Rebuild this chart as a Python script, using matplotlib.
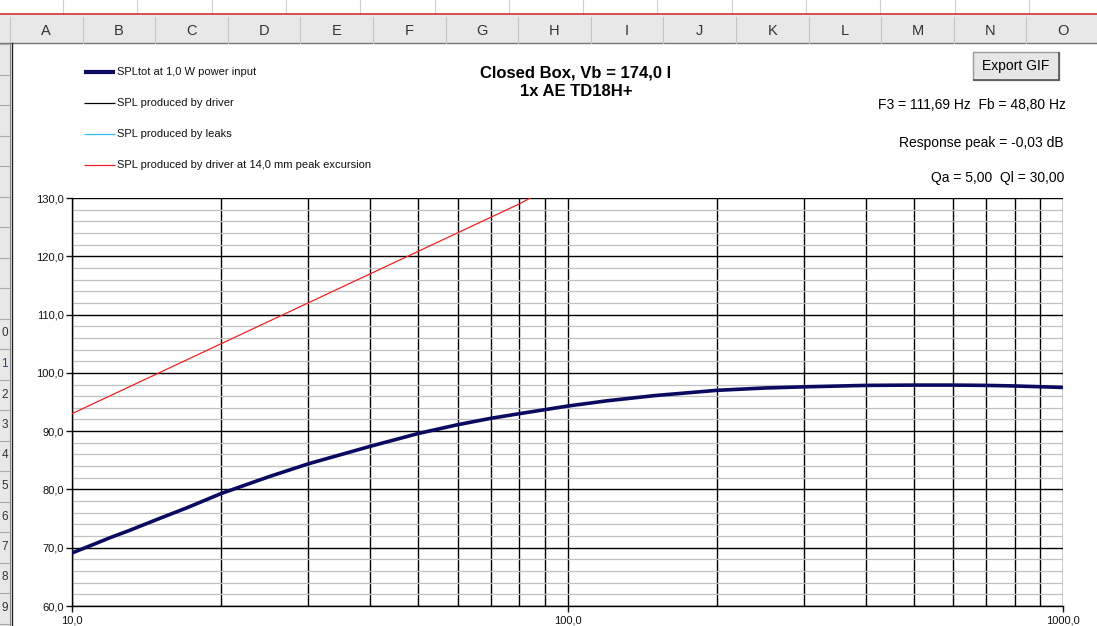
import numpy as np
import matplotlib
matplotlib.use('Agg')
import matplotlib.pyplot as plt
from matplotlib.patches import Rectangle
from matplotlib.ticker import FixedLocator, NullFormatter

plt.rcParams['font.family'] = ['Liberation Sans', 'DejaVu Sans']

# data
freq_tot = [10, 11, 12, 13, 15, 17, 20, 25, 30, 40, 50, 60, 70, 80, 100, 120,
            150, 200, 250, 300, 400, 500, 600, 700, 800, 1000]
spl_tot = [69.1, 70.5, 71.8, 72.9, 75.0, 76.8, 79.3, 82.2, 84.4, 87.4, 89.6,
           91.1, 92.2, 93.0, 94.3, 95.2, 96.1, 97.0, 97.4, 97.6, 97.85, 97.9,
           97.9, 97.85, 97.75, 97.5]
freq_xmax = [10, 20, 40, 80, 84.1]
spl_xmax = [93.0, 105.0, 117.0, 129.0, 130.0]

legend_labels = ['SPLtot at 1,0 W power input',
                 'SPL produced by driver',
                 'SPL produced by leaks',
                 'SPL produced by driver at 14,0 mm peak excursion']
legend_colors = ['#0a0a60', '#000000', '#33bbee', '#ee2222']
legend_widths = [3.0, 0.9, 0.9, 0.9]

col_letters = list('ABCDEFGHIJKLMNO')
y_ticks = [60, 70, 80, 90, 100, 110, 120, 130]
x_ticks = [10, 100, 1000]

W, H = 1097, 626
fig = plt.figure(figsize=(W / 100, H / 100), dpi=100)

# background "spreadsheet" in pixel coordinates
bg = fig.add_axes([0, 0, 1, 1], zorder=0)
bg.set_xlim(0, W)
bg.set_ylim(H, 0)
bg.axis('off')

# top strip
for x in np.arange(63, W, 74.3):
    bg.plot([x, x], [0, 14], color='#d0d0d0', lw=0.8)
bg.plot([0, W], [14, 14], color='#d03030', lw=1.2)
# column header
bg.add_patch(Rectangle((0, 15), W, 28, color='#e8e8e8', lw=0))
bg.plot([0, W], [43, 43], color='#777777', lw=1)
seps = [10 + 72.6 * i for i in range(16)]
for i, s in enumerate(seps):
    bg.plot([s, s], [17, 43], color='#c4c4c4', lw=0.8)
    if i < len(col_letters):
        bg.text(s + 36.3, 31, col_letters[i], ha='center', va='center',
                fontsize=10.5, color='#333333')
# left row strip
bg.add_patch(Rectangle((0, 43), 10, H - 43, color='#e8e8e8', lw=0))
for k in range(20):
    y = 44 + 30.5 * k
    bg.plot([0, 10], [y, y], color='#aaaaaa', lw=0.8)
    if 9 <= k <= 18:
        bg.text(4.5, y + 15, str((k + 1) % 10), ha='center', va='center',
                fontsize=8.5, color='#224488' if k == 10 else '#333333')
bg.add_patch(Rectangle((10, 43), W - 10, H - 43, color='white', lw=0))
bg.plot([12, 12], [43, H], color='#222222', lw=1)
bg.plot([10, 10], [43, H], color='#888888', lw=0.8)

# legend
for i, (lab, c, lw) in enumerate(zip(legend_labels, legend_colors, legend_widths)):
    y = 72 + 31 * i
    bg.plot([84, 115], [y, y], color=c, lw=lw, solid_capstyle='butt')
    bg.text(117, y, lab, ha='left', va='center', fontsize=8, color='#111111')

# title and info
bg.text(576, 73, 'Closed Box, Vb = 174,0 l', ha='center', va='center',
        fontsize=12, fontweight='bold')
bg.text(576, 91, '1x AE TD18H+', ha='center', va='center',
        fontsize=12, fontweight='bold')
bg.text(1066, 105, 'F3 = 111,69 Hz  Fb = 48,80 Hz', ha='right', va='center',
        fontsize=10)
bg.text(1064, 143, 'Response peak = -0,03 dB', ha='right', va='center',
        fontsize=10)
bg.text(1064, 178, 'Qa = 5,00  Ql = 30,00', ha='right', va='center',
        fontsize=10)
# button
bg.add_patch(Rectangle((973, 52), 86, 28, facecolor='#e6e6e6',
                       edgecolor='#9a9a9a', lw=1))
bg.plot([974, 1058], [80, 80], color='#555555', lw=1.2)
bg.plot([1059, 1059], [53, 80], color='#555555', lw=1.2)
bg.text(1016, 66, 'Export GIF', ha='center', va='center', fontsize=10)

# chart
ax = fig.add_axes([72 / W, 1 - 606 / H, (1063 - 72) / W, (606 - 198) / H], zorder=1)
ax.set_xscale('log')
ax.set_xlim(10, 1000)
ax.set_ylim(60, 130)

ax.plot(freq_xmax, spl_xmax, color=legend_colors[3], lw=0.9, zorder=3)
ax.plot(freq_tot, spl_tot, color=legend_colors[1], lw=0.9, zorder=3)
ax.plot(freq_tot, spl_tot, color=legend_colors[0], lw=2.6, zorder=4,
        solid_capstyle='butt')

ax.yaxis.set_major_locator(FixedLocator(y_ticks))
ax.yaxis.set_minor_locator(FixedLocator(np.arange(60, 131, 2)))
ax.xaxis.set_major_locator(FixedLocator(x_ticks))
ax.xaxis.set_minor_locator(FixedLocator([m * d for d in (10, 100) for m in range(2, 10)]))
ax.xaxis.set_minor_formatter(NullFormatter())
ax.set_yticklabels(['%d,0' % v for v in y_ticks])
ax.set_xticklabels(['10,0', '100,0', '1000,0'])

ax.grid(which='minor', axis='y', color='#c0c0c0', lw=0.9)
ax.grid(which='major', axis='y', color='black', lw=1.0)
ax.grid(which='major', axis='x', color='black', lw=1.0)
ax.grid(which='minor', axis='x', color='black', lw=1.0)
ax.set_axisbelow(True)

ax.tick_params(axis='both', which='major', labelsize=8, length=4, width=1,
               colors='#111111', pad=2)
ax.tick_params(axis='y', which='minor', length=0)
ax.tick_params(axis='x', which='minor', length=0)
ax.tick_params(axis='x', which='major', pad=3)
for sp in ['top', 'right']:
    ax.spines[sp].set_visible(False)
for sp in ['left', 'bottom']:
    ax.spines[sp].set_linewidth(1.0)

fig.savefig('out.png', dpi=100)
